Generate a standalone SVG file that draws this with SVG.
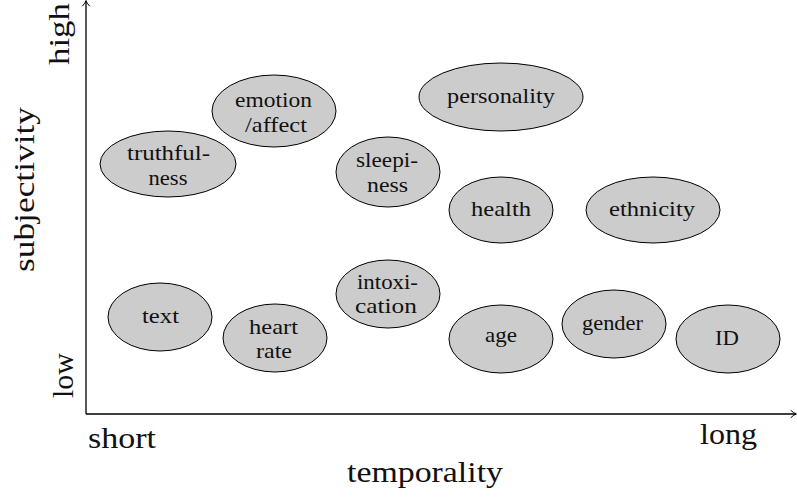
<svg xmlns="http://www.w3.org/2000/svg" width="797" height="498" viewBox="0 0 797 498">
  <style>
    .node ellipse { fill: #cccccc; stroke: #000000; stroke-width: 1; }
    .node text { font-family: 'Liberation Serif', 'DejaVu Serif', 'Times New Roman', serif; font-size: 22px; fill: #111111; text-anchor: middle; }
    .axis { stroke: #000000; stroke-width: 1.3; fill: none; }
    .tip { stroke: #000000; stroke-width: 1; fill: none; stroke-linecap: round; }
    .label { font-family: 'Liberation Serif', 'DejaVu Serif', 'Times New Roman', serif; font-size: 30px; fill: #111111; }
  </style>
  <rect width="797" height="498" fill="#ffffff"/>

  <!-- axes with arrow tips -->
  <g id="axes">
    <path class="axis" d="M86,414 V1 M86,414 H796"/>
    <path class="tip" d="M82.5,6 Q85.5,3 86,0.5 Q86.5,3 89.5,6"/>
    <path class="tip" d="M791,410.5 Q794,413.5 796.5,414 Q794,414.5 791,417.5"/>
  </g>

  <!-- axis labels -->
  <g id="labels">
    <text class="label" x="88" y="448" textLength="68" lengthAdjust="spacingAndGlyphs">short</text>
    <text class="label" x="700" y="444" textLength="57" lengthAdjust="spacingAndGlyphs">long</text>
    <text class="label" x="347" y="482" textLength="156" lengthAdjust="spacingAndGlyphs">temporality</text>
    <text class="label" transform="translate(69,65) rotate(-90)" textLength="62" lengthAdjust="spacingAndGlyphs">high</text>
    <text class="label" transform="translate(34,272) rotate(-90)" textLength="165" lengthAdjust="spacingAndGlyphs">subjectivity</text>
    <text class="label" transform="translate(73,398) rotate(-90)" textLength="45" lengthAdjust="spacingAndGlyphs">low</text>
  </g>

  <!-- nodes -->
  <g id="truthfulness" class="node">
    <ellipse cx="168" cy="164" rx="68" ry="33"/>
    <text x="168.5" y="160" textLength="83" lengthAdjust="spacingAndGlyphs">truthful-</text>
    <text x="168" y="185" textLength="39" lengthAdjust="spacingAndGlyphs">ness</text>
  </g>
  <g id="emotion" class="node">
    <ellipse cx="274" cy="111" rx="62" ry="36"/>
    <text x="273.5" y="107" textLength="77" lengthAdjust="spacingAndGlyphs">emotion</text>
    <text x="276" y="132" textLength="62" lengthAdjust="spacingAndGlyphs">/affect</text>
  </g>
  <g id="personality" class="node">
    <ellipse cx="501" cy="97" rx="82" ry="34"/>
    <text x="501" y="103" textLength="108" lengthAdjust="spacingAndGlyphs">personality</text>
  </g>
  <g id="sleepiness" class="node">
    <ellipse cx="388" cy="172" rx="52" ry="35"/>
    <text x="387" y="167" textLength="62" lengthAdjust="spacingAndGlyphs">sleepi-</text>
    <text x="387.5" y="192" textLength="41" lengthAdjust="spacingAndGlyphs">ness</text>
  </g>
  <g id="health" class="node">
    <ellipse cx="501" cy="210" rx="52" ry="33"/>
    <text x="501" y="216" textLength="60" lengthAdjust="spacingAndGlyphs">health</text>
  </g>
  <g id="ethnicity" class="node">
    <ellipse cx="653" cy="210" rx="67" ry="33"/>
    <text x="652" y="216" textLength="86" lengthAdjust="spacingAndGlyphs">ethnicity</text>
  </g>
  <g id="text" class="node">
    <ellipse cx="160" cy="317" rx="52" ry="34"/>
    <text x="160.5" y="323" textLength="37" lengthAdjust="spacingAndGlyphs">text</text>
  </g>
  <g id="heart-rate" class="node">
    <ellipse cx="275" cy="338" rx="52" ry="34"/>
    <text x="273.5" y="334" textLength="49" lengthAdjust="spacingAndGlyphs">heart</text>
    <text x="274" y="358" textLength="36" lengthAdjust="spacingAndGlyphs">rate</text>
  </g>
  <g id="intoxication" class="node">
    <ellipse cx="388" cy="294" rx="52" ry="34"/>
    <text x="387.5" y="289" textLength="61" lengthAdjust="spacingAndGlyphs">intoxi-</text>
    <text x="386" y="313" textLength="62" lengthAdjust="spacingAndGlyphs">cation</text>
  </g>
  <g id="age" class="node">
    <ellipse cx="501" cy="339" rx="52" ry="34"/>
    <text x="501" y="342" textLength="32" lengthAdjust="spacingAndGlyphs">age</text>
  </g>
  <g id="gender" class="node">
    <ellipse cx="614" cy="324" rx="52" ry="34"/>
    <text x="612.5" y="330" textLength="61" lengthAdjust="spacingAndGlyphs">gender</text>
  </g>
  <g id="id" class="node">
    <ellipse cx="728" cy="339" rx="52" ry="34"/>
    <text x="727" y="345" textLength="24" lengthAdjust="spacingAndGlyphs">ID</text>
  </g>

  <!-- no connectors between nodes -->
  <g id="connectors"/>
</svg>
